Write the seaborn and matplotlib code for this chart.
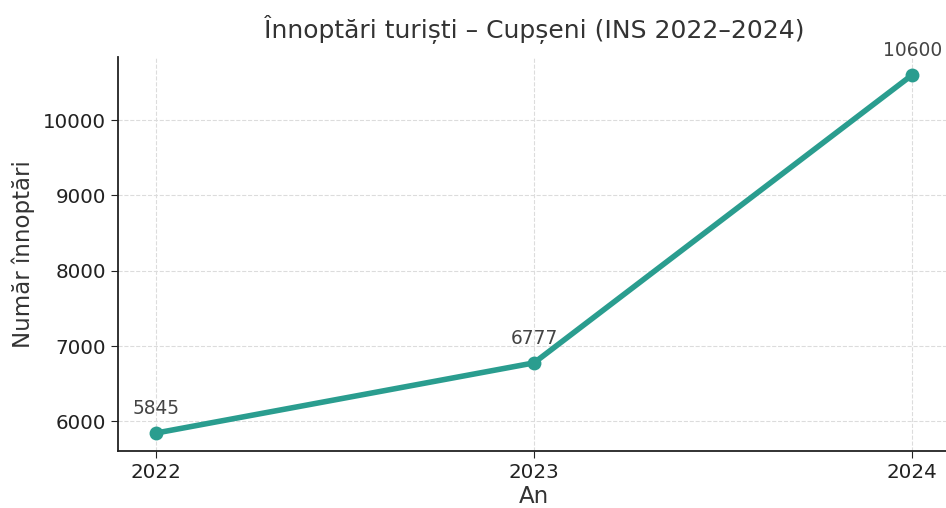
import matplotlib
matplotlib.use("Agg")
import matplotlib.pyplot as plt
import seaborn as sns
import pandas as pd

years = [2022, 2023, 2024]
nights = [5845, 6777, 10600]
title = "Înnoptări turiști – Cupșeni (INS 2022–2024)"
x_label = "An"
y_label = "Număr înnoptări"

sns.set_style("ticks")
plt.rcParams["font.family"] = ["DejaVu Sans"]

df = pd.DataFrame({"An": years, "Innoptari": nights})

fig = plt.figure(figsize=(9.46, 5.08), dpi=100)
ax = fig.add_axes([118 / 946, (508 - 451) / 508, (950 - 118) / 946, (451 - 57) / 508])

color = "#2a9d8f"
sns.lineplot(data=df, x="An", y="Innoptari", ax=ax, color=color, linewidth=4,
             marker="o", markersize=10, markeredgewidth=0)

for x, y in zip(years, nights):
    ax.annotate(f"{y}", (x, y), xytext=(0, 11), textcoords="offset points",
                ha="center", va="bottom", fontsize=13.4, color="#444444")

ax.set_xticks(years)
ax.set_xticklabels([str(y) for y in years])
ax.set_title(title, fontsize=18, color="#333333", pad=14)
ax.set_xlabel(x_label, fontsize=16.5, color="#333333", labelpad=2)
ax.set_ylabel(y_label, fontsize=16.5, color="#333333", labelpad=6)
ax.tick_params(labelsize=14.3, colors="#222222", length=5)
ax.grid(True, linestyle="--", color="#dcdcdc", linewidth=0.8)
sns.despine(ax=ax)
for s in ("left", "bottom"):
    ax.spines[s].set_color("#222222")
    ax.spines[s].set_linewidth(1.3)

fig.savefig("out.png", dpi=100)
